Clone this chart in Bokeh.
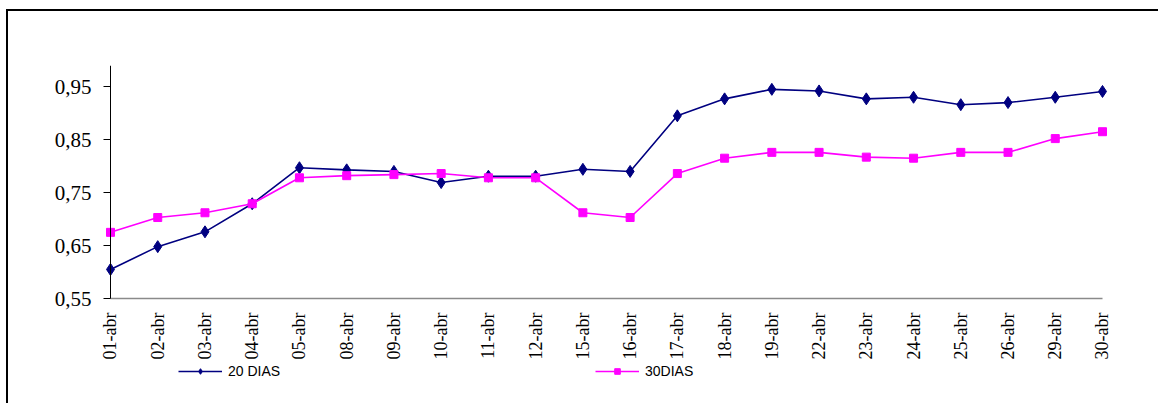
from math import pi

from bokeh.embed import file_html
from bokeh.layouts import column
from bokeh.models import (ColumnDataSource, FixedTicker, Legend, LegendItem,
                          Range1d)
from bokeh.plotting import figure
from bokeh.resources import INLINE

# Trading days in April
dates = ["01-abr", "02-abr", "03-abr", "04-abr", "05-abr", "08-abr", "09-abr",
         "10-abr", "11-abr", "12-abr", "15-abr", "16-abr", "17-abr", "18-abr",
         "19-abr", "22-abr", "23-abr", "24-abr", "25-abr", "26-abr", "29-abr",
         "30-abr"]

# Series values
dias20 = [0.605, 0.648, 0.676, 0.729, 0.797, 0.793, 0.790, 0.769, 0.781, 0.781,
          0.794, 0.790, 0.895, 0.927, 0.945, 0.942, 0.927, 0.930, 0.916, 0.920,
          0.930, 0.941]
dias30 = [0.675, 0.703, 0.712, 0.729, 0.778, 0.782, 0.784, 0.786, 0.778, 0.778,
          0.712, 0.703, 0.786, 0.815, 0.826, 0.826, 0.817, 0.815, 0.826, 0.826,
          0.852, 0.865]

series_names = ["20 DIAS", "30DIAS"]

y_ticks = [0.55, 0.65, 0.75, 0.85, 0.95]
y_tick_labels = ["0,55", "0,65", "0,75", "0,85", "0,95"]
y_min, y_max = 0.55, 0.99

idx = list(range(len(dates)))
n_last = len(dates) - 1
src = ColumnDataSource(data=dict(x=idx, d20=dias20, d30=dias30))

# The frame spans almost the whole canvas so that both axes, their labels
# and the legend row all sit inside it; axes are pinned at (0, y_min).
px_x = 992 / n_last          # pixels per category step
px_y = 530                   # pixels per unit of value
p = figure(width=1150, height=392, output_backend="svg", toolbar_location=None,
           x_range=Range1d(-100 / px_x, n_last + 46 / px_x),
           y_range=Range1d(y_min - 100 / px_y, y_max),
           min_border_left=2, min_border_right=10, min_border_top=54,
           min_border_bottom=5)
p.outline_line_color = None
p.grid.visible = False
p.background_fill_color = "white"
p.border_fill_color = "white"

# Y axis
p.yaxis.fixed_location = 0
p.yaxis.bounds = (y_min, y_max)
p.yaxis.ticker = FixedTicker(ticks=y_ticks)
p.yaxis.major_label_overrides = {t: s for t, s in zip(y_ticks, y_tick_labels)}
p.yaxis.minor_tick_line_color = None
p.yaxis.major_tick_in = 0
p.yaxis.major_tick_out = 7
p.yaxis.axis_line_color = "black"
p.yaxis.major_tick_line_color = "black"
p.yaxis.major_label_text_font = "Liberation Serif"
p.yaxis.major_label_text_font_size = "21px"
p.yaxis.major_label_text_color = "black"
p.yaxis.major_label_standoff = 12

# X axis
p.xaxis.fixed_location = y_min
p.xaxis.bounds = (0, n_last)
p.xaxis.ticker = FixedTicker(ticks=idx)
p.xaxis.major_label_overrides = {i: d for i, d in zip(idx, dates)}
p.xaxis.minor_tick_line_color = None
p.xaxis.major_tick_line_color = None
p.xaxis.axis_line_color = "#8a8a8a"
p.xaxis.axis_line_width = 1.5
p.xaxis.major_label_orientation = pi / 2
p.xaxis.major_label_text_font = "Liberation Serif"
p.xaxis.major_label_text_font_size = "18px"
p.xaxis.major_label_text_color = "black"
p.xaxis.major_label_standoff = 8

# Lines with markers
l20 = p.line("x", "d20", source=src, line_color="#000080", line_width=1.6)
m20 = p.scatter("x", "d20", source=src, marker="diamond", size=12,
                fill_color="#000080", line_color="#000080")
l30 = p.line("x", "d30", source=src, line_color="#FF00FF", line_width=1.6)
m30 = p.scatter("x", "d30", source=src, marker="square", size=8,
                fill_color="#FF00FF", line_color="#FF00FF")

# Legend entries placed under the category labels
for name, rends, loc in [(series_names[0], [l20, m20], (168, 19)),
                         (series_names[1], [l30, m30], (585, 19))]:
    leg = Legend(items=[LegendItem(label=name, renderers=rends)], location=loc,
                 glyph_width=44, glyph_height=14, label_standoff=6,
                 padding=0, margin=0, border_line_color=None,
                 background_fill_alpha=0, label_text_font="Liberation Sans",
                 label_text_font_size="14px", label_text_color="black")
    p.add_layout(leg, "center")

layout = column(p, styles={"border-left": "2px solid black",
                           "border-top": "2px solid black",
                           "margin-left": "6px", "margin-top": "9px"})

open("out.html", "w").write(file_html(layout, INLINE))
